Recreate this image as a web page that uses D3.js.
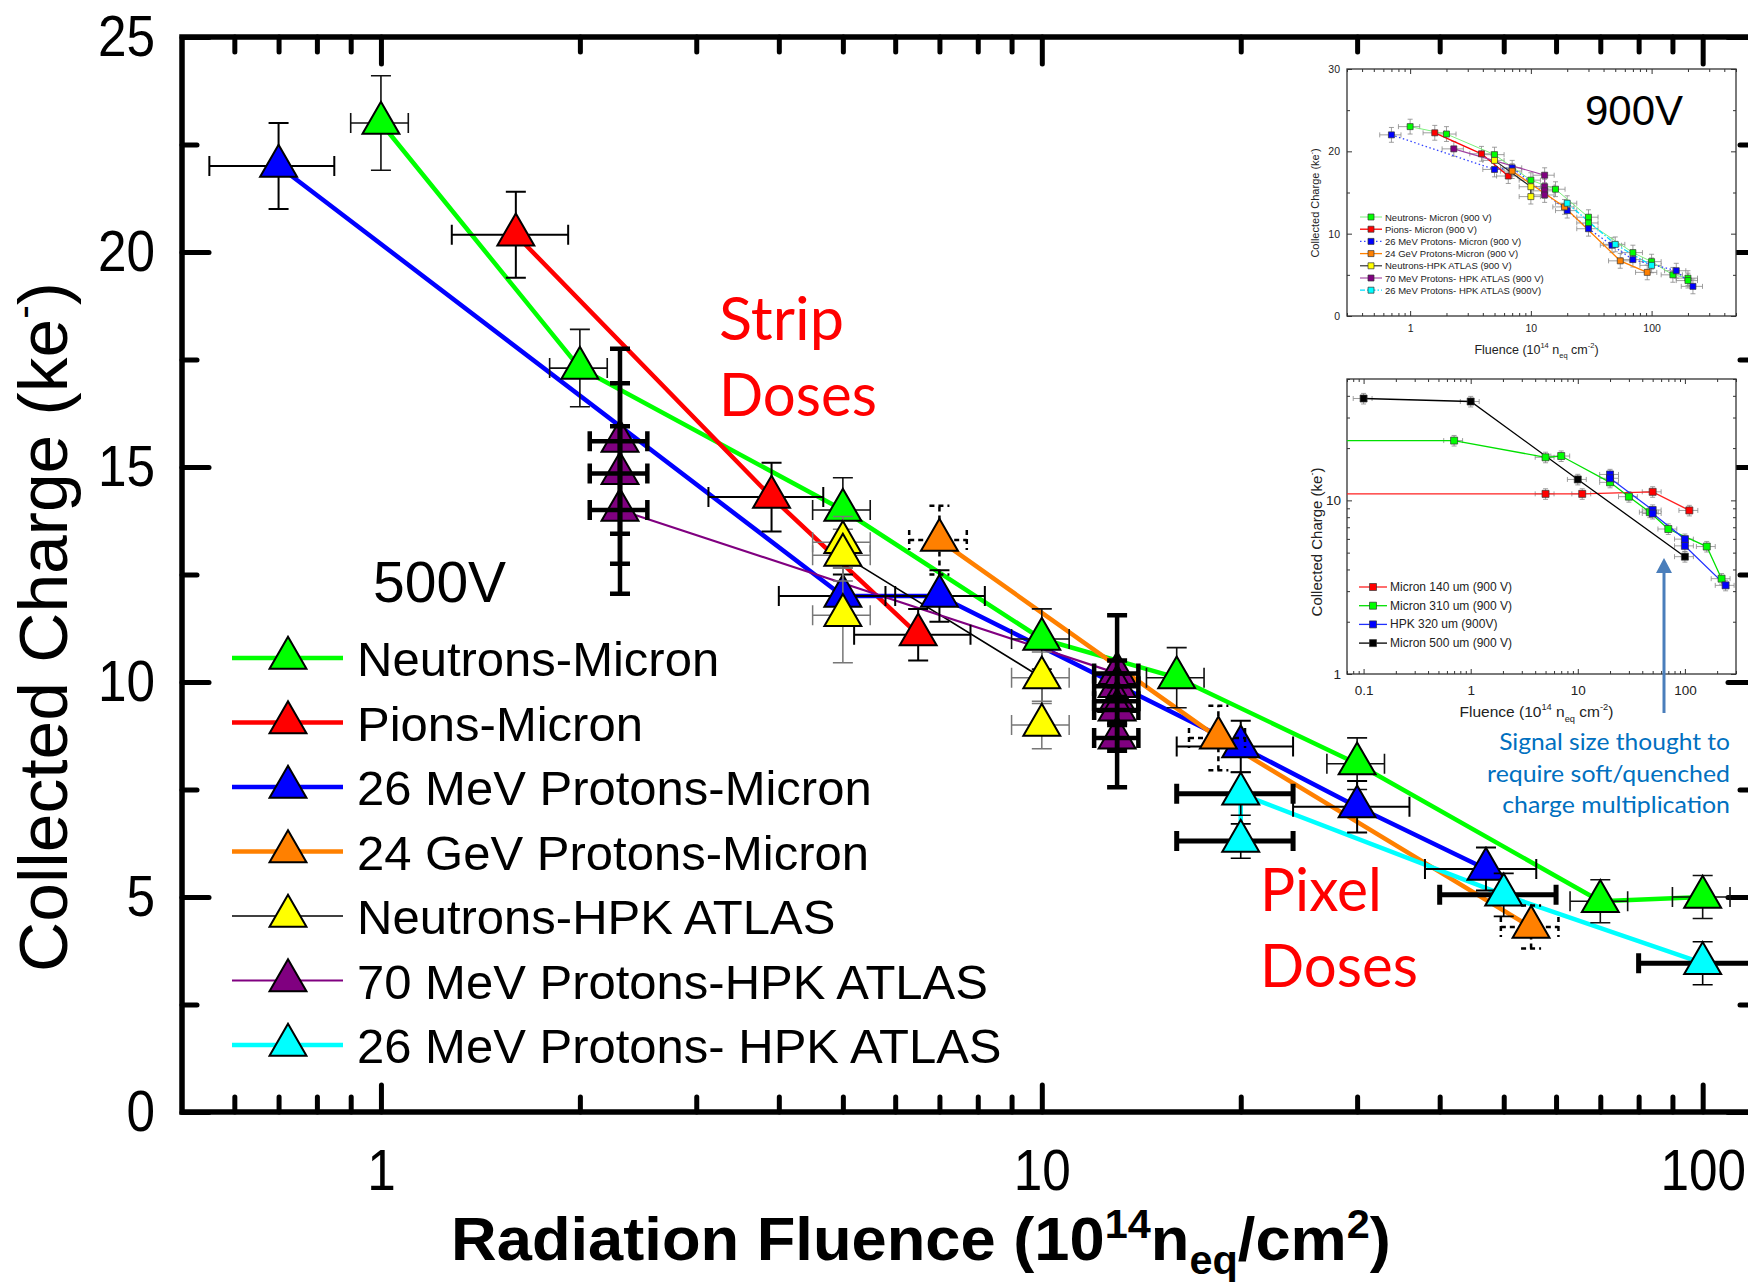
<!DOCTYPE html>
<html>
<head>
<meta charset="utf-8">
<title>Collected charge vs radiation fluence</title>
<script src="https://cdn.jsdelivr.net/npm/d3@7/dist/d3.min.js"></script>
<style>
  body { margin: 0; background: #fff; }
  svg { display: block; }
</style>
</head>
<body>
<script>
// ---- main plot (500 V), fluence in 1e14 neq/cm2, charge in ke- ----
const neutronsMicronX = [1, 2, 5, 10, 16, 30, 70, 100];
const neutronsMicronY = [23.0, 17.3, 14.0, 11.0, 10.1, 8.1, 4.9, 5.0];
const neutronsMicronXErr = [0.1, 0.2, 0.5, 1.0, 1.6, 3, 7, 10];
const neutronsMicronYErr = [1.1, 0.9, 0.75, 0.7, 0.7, 0.6, 0.5, 0.5];

const pionsMicronX = [1.6, 3.9, 6.5];
const pionsMicronY = [20.4, 14.3, 11.1];
const pionsMicronXErr = [0.32, 0.77, 1.3];
const pionsMicronYErr = [1.0, 0.8, 0.6];

const p26MicronX = [0.7, 5, 7, 20, 30, 47];
const p26MicronY = [22.0, 12.0, 12.0, 8.5, 7.1, 5.65];
const p26MicronXErr = [0.15, 1.0, 1.2, 4, 6, 9];
const p26MicronYErr = [1.0, 0.5, 0.6, 0.6, 0.6, 0.5];

const p24GevMicronX = [7, 18.5, 55];
const p24GevMicronY = [13.3, 8.7, 4.3];
const p24GevMicronXErr = [0.7, 1.8, 5.5];
const p24GevMicronYErr = [0.8, 0.75, 0.5];

const neutronsHpkX = [5, 5, 5, 10, 10];
const neutronsHpkY = [11.55, 13.25, 12.95, 10.1, 9.0];
const neutronsHpkXErr = [0.5, 0.5, 0.5, 1.0, 1.0];
const neutronsHpkYErr = [1.1, 0.6, 0.6, 0.6, 0.55];

const p70HpkX = [2.3, 2.3, 2.3, 13, 13, 13, 13, 13];
const p70HpkY = [15.6, 14.85, 14.0, 10.2, 9.9, 9.55, 9.35, 8.7];
const p70HpkXErr = [0.23, 0.23, 0.23, 1, 1, 1, 1, 1];
const p70HpkYErr = [2.15, 2.1, 1.95, 0.3, 0.3, 2.0, 0.3, 0.3];

const p26HpkX = [20, 20, 50, 100];
const p26HpkY = [6.3, 7.4, 5.05, 3.46];
const p26HpkXErr = [4, 4, 10, 20];
const p26HpkYErr = [0.4, 0.5, 0.5, 0.5];

const yMajorTicks = [0, 5, 10, 15, 20, 25];
const yMinorTicks = [2.5, 7.5, 12.5, 17.5, 22.5];
const xMajorTicks = [1, 10, 100];
const xMinorTicks = [0.6, 0.7, 0.8, 0.9, 2, 3, 4, 5, 6, 7, 8, 9, 20, 30, 40, 50, 60, 70, 80, 90];

// ---- inset 1: 900 V, linear charge ----
const in1NeutronsMicron = [[1, 23.0], [2, 22.1], [5, 19.6], [10, 16.5], [16, 15.4], [30, 12.0], [30, 11.3], [70, 7.7], [100, 6.6], [150, 5.0], [200, 4.6], [200, 4.3]];
const in1PionsMicron = [[1.6, 22.25], [3.9, 19.7], [6.5, 17.0]];
const in1P26Micron = [[0.7, 22.0], [5, 17.8], [7, 18.0], [20, 12.8], [30, 10.6], [47, 8.6], [70, 6.85], [160, 5.5], [220, 3.6]];
const in1P24GevMicron = [[7, 17.6], [19, 13.25], [55, 6.7], [92, 5.3]];
const in1NeutronsHpk = [[5, 18.9], [10, 15.7], [10, 14.5]];
const in1P70Hpk = [[2.3, 20.3], [13, 17.1], [13, 15.7], [13, 15.2], [13, 14.7]];
const in1P26Hpk = [[20, 13.7], [50, 8.7], [100, 6.15]];
const in1Labels = ['Neutrons- Micron (900 V)', 'Pions- Micron (900 V)', '26 MeV Protons- Micron (900 V)',
  '24 GeV Protons-Micron (900 V)', 'Neutrons-HPK ATLAS (900 V)', '70 MeV Protons- HPK ATLAS (900 V)',
  '26 MeV Protons- HPK ATLAS (900V)'];

// ---- inset 2: thickness comparison, log charge ----
const in2Micron140 = [[0.01, 10.9], [5, 10.9], [11, 10.9], [50, 11.2], [110, 8.75]];
const in2Micron310 = [[0.01, 22.1], [0.7, 22.1], [5, 17.7], [7, 18.0], [20, 12.7], [30, 10.5], [47, 8.55], [70, 6.84], [160, 5.42], [220, 3.54]];
const in2Hpk320 = [[20, 14.1], [20, 13.4], [50, 8.8], [50, 8.4], [100, 5.98], [100, 5.47], [240, 3.24]];
const in2Micron500 = [[0.1, 38.6], [1, 37.1], [10, 13.2], [100, 4.74]];
const in2Labels = ['Micron 140 um (900 V)', 'Micron 310 um (900 V)', 'HPK 320 um (900V)', 'Micron 500 um (900 V)'];

const annotationLines = ['Signal size thought to', 'require soft/quenched', 'charge multiplication'];

// ------------------------------------------------------------------
const W = 1748, H = 1282;
const FONT = '"Liberation Sans", Arial, sans-serif';
const svg = d3.select('body').append('svg')
  .attr('width', W).attr('height', H)
  .style('font-family', FONT);

const zip = (xs, ys, xe, ye) => xs.map((v, i) => ({ x: v, y: ys[i], xe: xe[i], ye: ye[i] }));

const series = [
  { label: 'Neutrons-Micron', pts: zip(neutronsMicronX, neutronsMicronY, neutronsMicronXErr, neutronsMicronYErr),
    fill: '#00ff00', line: '#00ff00', lw: 4.5, errColor: '#111', exw: 1.6, eyw: 1.6 },
  { label: 'Pions-Micron', pts: zip(pionsMicronX, pionsMicronY, pionsMicronXErr, pionsMicronYErr),
    fill: '#ff0000', line: '#ff0000', lw: 4.5, errColor: '#000', exw: 2, eyw: 2 },
  { label: '26 MeV Protons-Micron', pts: zip(p26MicronX, p26MicronY, p26MicronXErr, p26MicronYErr),
    fill: '#0000ff', line: '#0000ff', lw: 4.5, errColor: '#000', exw: 2, eyw: 2 },
  { label: '24 GeV Protons-Micron', pts: zip(p24GevMicronX, p24GevMicronY, p24GevMicronXErr, p24GevMicronYErr),
    fill: '#ff8000', line: '#ff8000', lw: 4.5, errColor: '#000', exw: 2.5, eyw: 2.5, dash: '5,4' },
  { label: 'Neutrons-HPK ATLAS', pts: zip(neutronsHpkX, neutronsHpkY, neutronsHpkXErr, neutronsHpkYErr),
    fill: '#ffff00', line: '#000', lw: 1.6, errColor: '#777', exw: 1.5, eyw: 1.5 },
  { label: '70 MeV Protons-HPK ATLAS', pts: zip(p70HpkX, p70HpkY, p70HpkXErr, p70HpkYErr),
    fill: '#800080', line: '#800080', lw: 2.2, errColor: '#000', exw: 4.5, eyw: 4.5, errOnTop: true },
  { label: '26 MeV Protons- HPK ATLAS', pts: zip(p26HpkX, p26HpkY, p26HpkXErr, p26HpkYErr),
    fill: '#00ffff', line: '#00ffff', lw: 4.5, errColor: '#000', exw: 5, eyw: 1.6 },
];

// Scales
const plot = { left: 182, right: 1755, top: 37, bottom: 1112 };
const x = d3.scaleLog().domain([0.5, 120]).range([plot.left, plot.right]);
const y = d3.scaleLinear().domain([0, 25]).range([plot.bottom, plot.top]);

// Axis helper: ticks from d3 axes, domain path removed
function ticks(parent, axis, values, size, transform, fmt, padding) {
  const g = parent.append('g')
    .attr('transform', transform)
    .call(axis.tickValues(values).tickSize(size).tickPadding(padding || 3).tickFormat(fmt || (() => '')));
  g.select('.domain').remove();
  return g;
}

// Fit a text element to a target width by horizontal scaling
function fit(text, target) {
  const w = text.node().getBBox().width;
  text.attr('transform', `scale(${target / w},1)`);
}

// ---- main frame and ticks ----
const frame = svg.append('g');
const mainTicks = [
  ticks(frame, d3.axisLeft(y), yMajorTicks, -27, `translate(${plot.left},0)`, d3.format('d'), 27),
  ticks(frame, d3.axisLeft(y), yMinorTicks, -15, `translate(${plot.left},0)`),
  ticks(frame, d3.axisRight(y), yMajorTicks, -27, `translate(${plot.right},0)`),
  ticks(frame, d3.axisRight(y), yMinorTicks, -15, `translate(${plot.right},0)`),
  ticks(frame, d3.axisBottom(x), xMajorTicks, -27, `translate(0,${plot.bottom})`, d3.format('d'), 38),
  ticks(frame, d3.axisBottom(x), xMinorTicks, -15, `translate(0,${plot.bottom})`),
  ticks(frame, d3.axisTop(x), xMajorTicks, -27, `translate(0,${plot.top})`),
  ticks(frame, d3.axisTop(x), xMinorTicks, -15, `translate(0,${plot.top})`),
];
mainTicks.forEach(g => {
  g.selectAll('line').attr('stroke', '#000').attr('stroke-width', 5).attr('stroke-linecap', 'round');
  g.selectAll('text')
    .attr('font-size', 57).attr('fill', '#000').attr('font-family', FONT)
    .each(function () {
      const t = d3.select(this);
      const tx = +t.attr('x') || 0;
      t.attr('x', 0).attr('transform', `translate(${tx},0) scale(0.9,1)`);
    });
});
frame.append('rect')
  .attr('x', plot.left).attr('y', plot.top)
  .attr('width', plot.right - plot.left).attr('height', plot.bottom - plot.top)
  .attr('fill', 'none').attr('stroke', '#000').attr('stroke-width', 5.5);

// ---- data layers ----
const line = d3.line().x(d => x(d.x)).y(d => y(d.y));
const tri = d3.symbol(d3.symbolTriangle, 590);
const CAP = 10;

const linesG = svg.append('g');
series.forEach(s => {
  linesG.append('path')
    .attr('d', line(s.pts))
    .attr('fill', 'none').attr('stroke', s.line).attr('stroke-width', s.lw)
    .attr('stroke-linejoin', 'round');
});

function errorBars(g, s) {
  const eg = g.append('g')
    .attr('stroke', s.errColor)
    .attr('stroke-dasharray', s.dash || null)
    .attr('fill', 'none');
  s.pts.forEach(d => {
    const cx = x(d.x), cy = y(d.y);
    const x0 = x(d.x - d.xe), x1 = x(d.x + d.xe);
    const y0 = y(d.y - d.ye), y1 = y(d.y + d.ye);
    eg.append('path').attr('stroke-width', s.exw)
      .attr('d', `M${x0},${cy}H${x1}M${x0},${cy - CAP}V${cy + CAP}M${x1},${cy - CAP}V${cy + CAP}`);
    eg.append('path').attr('stroke-width', s.eyw)
      .attr('d', `M${cx},${y0}V${y1}M${cx - CAP},${y0}H${cx + CAP}M${cx - CAP},${y1}H${cx + CAP}`);
  });
}

const marksG = svg.append('g');
series.forEach(s => {
  const g = marksG.append('g');
  if (!s.errOnTop) errorBars(g, s);
  g.selectAll('path.mark')
    .data(s.pts)
    .join('path')
    .attr('class', 'mark')
    .attr('d', tri)
    .attr('transform', d => `translate(${x(d.x)},${y(d.y)})`)
    .attr('fill', s.fill).attr('stroke', '#000').attr('stroke-width', 2);
  if (s.errOnTop) errorBars(g, s);
});

// ---- legend ----
const legendRows = d3.scaleLinear().domain([0, 6]).range([658, 1045]);
const legend = svg.append('g');
series.forEach((s, i) => {
  const ly = legendRows(i);
  legend.append('line')
    .attr('x1', 232).attr('x2', 343).attr('y1', ly).attr('y2', ly)
    .attr('stroke', s.line).attr('stroke-width', s.lw);
  legend.append('path')
    .attr('d', tri).attr('transform', `translate(288,${ly})`)
    .attr('fill', s.fill).attr('stroke', '#000').attr('stroke-width', 2);
  legend.append('text')
    .attr('x', 357).attr('y', ly + 18)
    .attr('font-size', 49).attr('fill', '#000')
    .text(s.label);
});

svg.append('text').attr('x', 373).attr('y', 602)
  .attr('font-size', 57).attr('fill', '#000').text('500V');

// ---- axis titles ----
const yTitle = svg.append('g').attr('transform', 'translate(67,627) rotate(-90)')
  .append('text').attr('text-anchor', 'middle').attr('font-size', 68).attr('fill', '#000');
yTitle.append('tspan').text('Collected Charge (ke');
yTitle.append('tspan').attr('font-size', 40).attr('dy', -30).text('-');
yTitle.append('tspan').attr('dy', 30).text(')');
fit(yTitle, 690);

const xTitle = svg.append('g').attr('transform', 'translate(921,1260)')
  .append('text').attr('text-anchor', 'middle').attr('font-size', 61)
  .attr('font-weight', 'bold').attr('fill', '#000');
xTitle.append('tspan').text('Radiation Fluence (10');
xTitle.append('tspan').attr('font-size', 40).attr('dy', -22).text('14');
xTitle.append('tspan').attr('dy', 22).text('n');
xTitle.append('tspan').attr('font-size', 40).attr('dy', 14).text('eq');
xTitle.append('tspan').attr('dy', -14).text('/cm');
xTitle.append('tspan').attr('font-size', 40).attr('dy', -22).text('2');
xTitle.append('tspan').attr('dy', 22).text(')');
fit(xTitle, 940);

// ---- red dose annotations ----
function redLabel(tx, ty, str, width) {
  const t = svg.append('g').attr('transform', `translate(${tx},${ty})`)
    .append('text').attr('font-family', 'Lato, "Open Sans", sans-serif')
    .attr('font-size', 60).attr('fill', '#ff0000').text(str);
  fit(t, width);
}
redLabel(719, 340, 'Strip', 125);
redLabel(719, 416, 'Doses', 158);
redLabel(1260, 911, 'Pixel', 122);
redLabel(1260, 987, 'Doses', 158);

// ---- insets ----
function drawInset(cfg) {
  const g = svg.append('g');
  const ix = d3.scaleLog().domain(cfg.xDomain).range([cfg.left, cfg.right]);
  const iy = (cfg.yLog ? d3.scaleLog() : d3.scaleLinear()).domain(cfg.yDomain).range([cfg.bottom, cfg.top]);
  const clipId = `clip-${cfg.id}`;
  g.append('clipPath').attr('id', clipId).append('rect')
    .attr('x', cfg.left).attr('y', cfg.top)
    .attr('width', cfg.right - cfg.left).attr('height', cfg.bottom - cfg.top);
  g.append('rect')
    .attr('x', cfg.left).attr('y', cfg.top)
    .attr('width', cfg.right - cfg.left).attr('height', cfg.bottom - cfg.top)
    .attr('fill', '#fff');

  const xt = ix.ticks();
  const xMaj = xt.filter(v => Math.abs(Math.log10(v) - Math.round(Math.log10(v))) < 1e-6);
  const xMin = xt.filter(v => !xMaj.includes(v));
  const xFmt = d => (d < 1 ? d3.format('.1f')(d) : d3.format('d')(d));
  const yMaj = cfg.yMajor;
  const yMin = cfg.yMinor;
  const tg = [
    ticks(g, d3.axisBottom(ix), xMaj, -5, `translate(0,${cfg.bottom})`, xFmt, cfg.xPad),
    ticks(g, d3.axisBottom(ix), xMin, -3, `translate(0,${cfg.bottom})`),
    ticks(g, d3.axisTop(ix), xMaj, -5, `translate(0,${cfg.top})`),
    ticks(g, d3.axisTop(ix), xMin, -3, `translate(0,${cfg.top})`),
    ticks(g, d3.axisLeft(iy), yMaj, -5, `translate(${cfg.left},0)`, d3.format('d'), cfg.yPad),
    ticks(g, d3.axisLeft(iy), yMin, -3, `translate(${cfg.left},0)`),
    ticks(g, d3.axisRight(iy), yMaj, -5, `translate(${cfg.right},0)`),
    ticks(g, d3.axisRight(iy), yMin, -3, `translate(${cfg.right},0)`),
  ];
  tg.forEach(a => {
    a.selectAll('line').attr('stroke', '#333').attr('stroke-width', 1);
    a.selectAll('text').attr('font-size', cfg.tickFont).attr('fill', '#222').attr('font-family', FONT);
  });
  g.append('rect')
    .attr('x', cfg.left).attr('y', cfg.top)
    .attr('width', cfg.right - cfg.left).attr('height', cfg.bottom - cfg.top)
    .attr('fill', 'none').attr('stroke', '#333').attr('stroke-width', 1.3);

  const data = g.append('g').attr('clip-path', `url(#${clipId})`);
  const iline = d3.line().x(d => ix(d[0])).y(d => iy(d[1]));
  const sq = d3.symbol(d3.symbolSquare, cfg.markSize);
  cfg.series.forEach(s => {
    const eg = data.append('g').attr('stroke', '#888').attr('stroke-width', 0.8).attr('fill', 'none');
    s.pts.forEach(d => {
      const cx = ix(d[0]), cy = iy(d[1]);
      const x0 = ix(d[0] * (1 - cfg.xErr)), x1 = ix(d[0] * (1 + cfg.xErr));
      const y0 = cfg.yLog ? iy(d[1] * (1 - cfg.yErr)) : iy(d[1] - cfg.yErr);
      const y1 = cfg.yLog ? iy(d[1] * (1 + cfg.yErr)) : iy(d[1] + cfg.yErr);
      eg.append('path').attr('d',
        `M${x0},${cy}H${x1}M${x0},${cy - 2.5}V${cy + 2.5}M${x1},${cy - 2.5}V${cy + 2.5}` +
        `M${cx},${y0}V${y1}M${cx - 2.5},${y0}H${cx + 2.5}M${cx - 2.5},${y1}H${cx + 2.5}`);
    });
  });
  cfg.series.forEach(s => {
    data.append('path').attr('d', iline(s.pts))
      .attr('fill', 'none').attr('stroke', s.line).attr('stroke-width', s.lw)
      .attr('stroke-dasharray', s.dash || null);
  });
  cfg.series.forEach(s => {
    data.selectAll(null).data(s.pts).join('path')
      .attr('d', sq).attr('transform', d => `translate(${ix(d[0])},${iy(d[1])})`)
      .attr('fill', s.fill).attr('stroke', '#333').attr('stroke-width', 0.7);
  });

  // legend
  const lg = g.append('g');
  cfg.series.forEach((s, i) => {
    const ly = cfg.legY[0] + i * cfg.legY[1];
    lg.append('line').attr('x1', cfg.legX[0]).attr('x2', cfg.legX[1]).attr('y1', ly).attr('y2', ly)
      .attr('stroke', s.line).attr('stroke-width', s.lw).attr('stroke-dasharray', s.dash || null);
    lg.append('path').attr('d', sq)
      .attr('transform', `translate(${(cfg.legX[0] + cfg.legX[1]) / 2},${ly})`)
      .attr('fill', s.fill).attr('stroke', '#333').attr('stroke-width', 0.7);
    lg.append('text').attr('x', cfg.legX[1] + 3).attr('y', ly)
      .attr('dominant-baseline', 'central').attr('font-size', cfg.legFont).attr('fill', '#222')
      .text(s.label);
  });

  // axis titles
  const xt2 = g.append('text').attr('x', (cfg.left + cfg.right) / 2 - 5).attr('y', cfg.xTitleY)
    .attr('text-anchor', 'middle').attr('font-size', cfg.titleFont).attr('fill', '#222');
  const sup = cfg.titleFont * 0.6;
  xt2.append('tspan').text('Fluence (10');
  xt2.append('tspan').attr('font-size', sup).attr('dy', -cfg.titleFont * 0.45).text('14');
  xt2.append('tspan').attr('dy', cfg.titleFont * 0.45).text(' n');
  xt2.append('tspan').attr('font-size', sup).attr('dy', cfg.titleFont * 0.3).text('eq');
  xt2.append('tspan').attr('dy', -cfg.titleFont * 0.3).text(' cm');
  xt2.append('tspan').attr('font-size', sup).attr('dy', -cfg.titleFont * 0.45).text('-2');
  xt2.append('tspan').attr('dy', cfg.titleFont * 0.45).text(')');

  const yt2 = g.append('g').attr('transform', `translate(${cfg.yTitleX},${cfg.yTitleY}) rotate(-90)`)
    .append('text').attr('text-anchor', 'middle').attr('font-size', cfg.yTitleFont).attr('fill', '#222');
  yt2.append('tspan').text('Collected Charge (ke');
  yt2.append('tspan').attr('font-size', cfg.yTitleFont * 0.6).attr('dy', -cfg.yTitleFont * 0.45).text('-');
  yt2.append('tspan').attr('dy', cfg.yTitleFont * 0.45).text(')');
  return g;
}

drawInset({
  id: 'a', left: 1347, right: 1736, top: 69, bottom: 316,
  xDomain: [0.3, 500], yDomain: [0, 30], yLog: false,
  yMajor: [0, 10, 20, 30], yMinor: [5, 15, 25],
  xPad: 9, yPad: 7, tickFont: 10.5, markSize: 36, xErr: 0.2, yErr: 0.9,
  legX: [1360, 1382], legY: [217, 12.2], legFont: 9.5,
  titleFont: 12.5, xTitleY: 354, yTitleX: 1319, yTitleY: 203, yTitleFont: 11,
  series: [
    { label: in1Labels[0], pts: in1NeutronsMicron, fill: '#00ff00', line: '#7cf07c', lw: 1 },
    { label: in1Labels[1], pts: in1PionsMicron, fill: '#ff0000', line: '#ff0000', lw: 1.3 },
    { label: in1Labels[2], pts: in1P26Micron, fill: '#0000ff', line: '#3344ff', lw: 1.3, dash: '1.5,2.5' },
    { label: in1Labels[3], pts: in1P24GevMicron, fill: '#ff8000', line: '#ff8000', lw: 1.3 },
    { label: in1Labels[4], pts: in1NeutronsHpk, fill: '#ffff00', line: '#222', lw: 1.1 },
    { label: in1Labels[5], pts: in1P70Hpk, fill: '#800080', line: '#a040a0', lw: 1.1 },
    { label: in1Labels[6], pts: in1P26Hpk, fill: '#00ffff', line: '#00e0ff', lw: 1.3, dash: '5,2,1.5,2' },
  ],
});

drawInset({
  id: 'b', left: 1347, right: 1736, top: 379, bottom: 674,
  xDomain: [0.07, 300], yDomain: [1, 50], yLog: true,
  yMajor: [1, 10], yMinor: [2, 3, 4, 5, 6, 7, 8, 9, 20, 30, 40, 50],
  xPad: 11, yPad: 6, tickFont: 13.5, markSize: 49, xErr: 0.2, yErr: 0.07,
  legX: [1359, 1387], legY: [587, 18.7], legFont: 12,
  titleFont: 15.5, xTitleY: 717, yTitleX: 1322, yTitleY: 542, yTitleFont: 15,
  series: [
    { label: in2Labels[0], pts: in2Micron140, fill: '#ff0000', line: '#ff2020', lw: 1.3 },
    { label: in2Labels[1], pts: in2Micron310, fill: '#00ff00', line: '#00e000', lw: 1.3 },
    { label: in2Labels[2], pts: in2Hpk320, fill: '#0000ff', line: '#2030ff', lw: 1.3 },
    { label: in2Labels[3], pts: in2Micron500, fill: '#000', line: '#000', lw: 1.3 },
  ],
});

svg.append('text').attr('x', 1585).attr('y', 125)
  .attr('font-size', 42).attr('fill', '#000').text('900V');

// ---- blue arrow and comment ----
const blue = '#0070c0';
svg.append('line').attr('x1', 1664).attr('x2', 1664).attr('y1', 713).attr('y2', 570)
  .attr('stroke', '#4a7ebb').attr('stroke-width', 3);
svg.append('path').attr('d', 'M1664,558L1672,573L1656,573Z').attr('fill', '#4a7ebb');
const noteWidths = [231, 243, 228];
annotationLines.forEach((str, i) => {
  const t = svg.append('g').attr('transform', `translate(1730,${750 + i * 31.5})`)
    .append('text').attr('text-anchor', 'end')
    .attr('font-family', 'Lato, "Open Sans", sans-serif')
    .attr('font-size', 24).attr('fill', blue).text(str);
  fit(t, noteWidths[i]);
});
</script>
</body>
</html>
